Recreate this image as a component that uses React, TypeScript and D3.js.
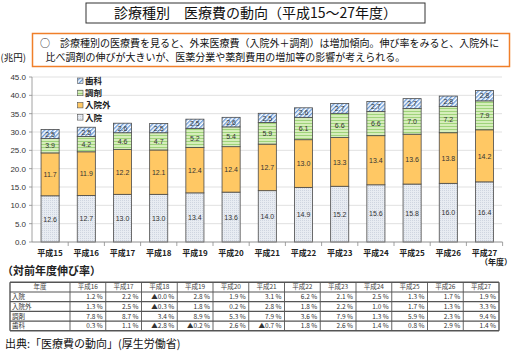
import React from "react";
import * as d3 from "d3";

const years = ["平成15","平成16","平成17","平成18","平成19","平成20","平成21","平成22","平成23","平成24","平成25","平成26","平成27"];
const nyuin = [12.6,12.7,13.0,13.0,13.4,13.6,14.0,14.9,15.2,15.6,15.8,16.0,16.4];
const nyuingai = [11.7,11.9,12.2,12.1,12.4,12.4,12.7,13.0,13.3,13.4,13.6,13.8,14.2];
const chozai = [3.9,4.2,4.6,4.7,5.2,5.4,5.9,6.1,6.6,6.6,7.0,7.2,7.9];
const shika = [2.5,2.5,2.6,2.5,2.5,2.6,2.5,2.6,2.7,2.7,2.7,2.8,2.8];
const yTicks = [0,5,10,15,20,25,30,35,40,45];

const tableYears = ["平成16","平成17","平成18","平成19","平成20","平成21","平成22","平成23","平成24","平成25","平成26","平成27"];
const rateNyuin = ["1.2","2.2","▲0.0","2.8","1.9","3.1","6.2","2.1","2.5","1.3","1.7","1.9"];
const rateNyuingai = ["1.3","2.5","▲0.3","1.8","0.2","2.8","1.8","2.2","1.0","1.7","1.3","3.3"];
const rateChozai = ["7.8","8.7","3.4","8.9","5.3","7.9","3.6","7.9","1.3","5.9","2.3","9.4"];
const rateShika = ["0.3","1.1","▲2.8","▲0.2","2.6","▲0.7","1.8","2.6","1.4","0.8","2.9","1.4"];

const seriesDefs = [
  { key: "入院", values: nyuin, fill: "url(#pNyuin)" },
  { key: "入院外", values: nyuingai, fill: "#FFC864" },
  { key: "調剤", values: chozai, fill: "url(#pChozai)" },
  { key: "歯科", values: shika, fill: "url(#pShika)" },
];

const FONT = "'Noto Sans CJK JP', 'Noto Sans', sans-serif";

export default function App() {
  const W = 513, H = 355;
  const x = d3.scaleBand<string>().domain(years).range([32, 502.6]).paddingInner(0.5).paddingOuter(0.25);
  const y = d3.scaleLinear().domain([0, 45]).range([242, 77]);
  const stack = d3.stack<number>().keys(seriesDefs.map((s, i) => String(i))).value((d, k) => seriesDefs[+k].values[d]);
  const stacked = stack(years.map((_, i) => i));
  const bw = x.bandwidth();
  const step = x.step();

  const tRows = [
    { label: "入院", vals: rateNyuin },
    { label: "入院外", vals: rateNyuingai },
    { label: "調剤", vals: rateChozai },
    { label: "歯科", vals: rateShika },
  ];
  const tx0 = 10, tx1 = 70, tcw = 35.75, ty0 = 282.3, trh = 9.7;
  const legend = [
    { label: "歯科", fill: "url(#pShika)" },
    { label: "調剤", fill: "url(#pChozai)" },
    { label: "入院外", fill: "#FFC864" },
    { label: "入院", fill: "url(#pNyuin)" },
  ];

  return (
    <svg width={W} height={H} style={{ position: "absolute", left: 0, top: 0, background: "#fff" }} fontFamily={FONT}>
      <defs>
        <pattern id="pNyuin" patternUnits="userSpaceOnUse" width="2" height="2">
          <rect width="2" height="2" fill="#e8ecf2" />
          <rect width="1" height="1" fill="#cfd5e0" />
        </pattern>
        <pattern id="pChozai" patternUnits="userSpaceOnUse" width="3" height="3">
          <rect width="3" height="3" fill="#d6eebb" />
          <rect y="0" width="3" height="1" fill="#9fd37a" />
        </pattern>
        <pattern id="pShika" patternUnits="userSpaceOnUse" width="3" height="3" patternTransform="rotate(45)">
          <rect width="3" height="3" fill="#ffffff" />
          <rect width="1.4" height="3" fill="#6a9ad6" />
        </pattern>
      </defs>
      <rect width={W} height={H} fill="#fff" />

      {/* Title */}
      <rect x={86} y={3} width={339} height={20} fill="#fff" stroke="#333" strokeWidth={1} />
      <text x={255.5} y={18} textAnchor="middle" fontSize={14} fill="#111">診療種別　医療費の動向（平成15～27年度）</text>

      {/* Note box */}
      <rect x={32.5} y={33.5} width={477} height={33} fill="#fff" stroke="#f07f2a" strokeWidth={1.5} />
      <text x={40} y={47} fontSize={10} fill="#111">○　診療種別の医療費を見ると、外来医療費（入院外＋調剤）は増加傾向。伸び率をみると、入院外に</text>
      <text x={45.5} y={61} fontSize={10} fill="#111">比べ調剤の伸びが大きいが、医薬分業や薬剤費用の増加等の影響が考えられる。</text>
      <text x={0.5} y={61} fontSize={9.5} fill="#111">(兆円)</text>

      {/* gridlines */}
      {yTicks.map(t => (
        <line key={t} x1={32} x2={502} y1={y(t)} y2={y(t)} stroke="#d9d9d9" strokeWidth={0.8} />
      ))}
      <line x1={32} x2={32} y1={77} y2={242} stroke="#8c8c8c" strokeWidth={0.8} />
      {yTicks.map(t => (
        <g key={"yt" + t}>
          <line x1={29} x2={32} y1={y(t)} y2={y(t)} stroke="#8c8c8c" strokeWidth={0.8} />
          <text x={26} y={y(t) + 3} textAnchor="end" fontSize={8} fill="#333" fontFamily="'Liberation Sans', Arial, sans-serif">{t.toFixed(1)}</text>
        </g>
      ))}

      {/* bars */}
      {stacked.map((layer, si) => (
        <g key={si}>
          {layer.map((d, i) => (
            <rect key={i} x={x(years[i])!} y={y(d[1])} width={bw} height={y(d[0]) - y(d[1])}
              fill={seriesDefs[si].fill} stroke="#4a4a4a" strokeWidth={0.8} />
          ))}
        </g>
      ))}
      {stacked.map((layer, si) => (
        <g key={"l" + si}>
          {layer.map((d, i) => {
            const v = seriesDefs[si].values[i];
            return (
              <text key={i} x={x(years[i])! + bw / 2} y={y((d[0] + d[1]) / 2) + 2.7} textAnchor="middle"
                fontSize={7} fill="#333" fontFamily="'Liberation Sans', Arial, sans-serif">{v.toFixed(1)}</text>
            );
          })}
        </g>
      ))}

      {/* x axis */}
      <line x1={32} x2={502.6} y1={242} y2={242} stroke="#8c8c8c" strokeWidth={0.8} />
      {years.map((yr, i) => (
        <line key={"xt" + i} x1={32 + step * (i + 1)} x2={32 + step * (i + 1)} y1={242} y2={246} stroke="#8c8c8c" strokeWidth={0.8} />
      ))}
      {years.map((yr, i) => (
        <text key={"xl" + i} x={x(yr)! + bw / 2} y={255.5} textAnchor="middle" fontSize={8} fontWeight="bold" fill="#222">{yr}</text>
      ))}
      <text x={496} y={265} textAnchor="middle" fontSize={8} fontWeight="bold" fill="#222">（年度）</text>

      {/* legend */}
      {legend.map((l, i) => (
        <g key={"lg" + i}>
          <rect x={77.5} y={78 + i * 12.2} width={5.5} height={5.5} fill={l.fill} stroke="#555" strokeWidth={0.6} />
          <text x={85} y={84 + i * 12.2} fontSize={8.5} fontWeight="bold" fill="#222">{l.label}</text>
        </g>
      ))}

      {/* table title */}
      <text x={2} y={275} fontSize={11} fontWeight="bold" fill="#222">（対前年度伸び率）</text>

      {/* table */}
      <g>
        {[0, 1, 2, 3, 4].map(r => (
          r === 0 ? (
            <g key={"th"}>
              <text x={(tx0 + tx1) / 2} y={ty0 + trh / 2 + 2.3} textAnchor="middle" fontSize={6.5} fill="#444">年度</text>
              {tableYears.map((ty, c) => (
                <text key={c} x={tx1 + tcw * c + tcw / 2} y={ty0 + trh / 2 + 2.3} textAnchor="middle" fontSize={6.5} fill="#444">{ty}</text>
              ))}
            </g>
          ) : (
            <g key={"tr" + r}>
              <text x={tx0 + 2} y={ty0 + trh * r + trh / 2 + 2.3} fontSize={6.5} fill="#333">{tRows[r - 1].label}</text>
              {tRows[r - 1].vals.map((v, c) => (
                <text key={c} x={tx1 + tcw * (c + 1) - 3} y={ty0 + trh * r + trh / 2 + 2.3} textAnchor="end" fontSize={6.5} fill="#333">{v + " %"}</text>
              ))}
            </g>
          )
        ))}
        {[0, 1, 2, 3, 4, 5].map(r => (
          <line key={"hl" + r} x1={tx0} x2={tx1 + tcw * 12} y1={ty0 + trh * r} y2={ty0 + trh * r}
            stroke="#555" strokeWidth={r === 0 || r === 5 ? 1.4 : 1.2} />
        ))}
        {d3.range(14).map(c => {
          const xx = c === 0 ? tx0 : tx1 + tcw * (c - 1);
          return <line key={"vl" + c} x1={xx} x2={xx} y1={ty0} y2={ty0 + trh * 5} stroke="#555" strokeWidth={c === 0 || c === 13 ? 1.4 : 0.9} />;
        })}
      </g>

      <text x={5} y={348} fontSize={11} fill="#111">出典:「医療費の動向」(厚生労働省)</text>
    </svg>
  );
}
